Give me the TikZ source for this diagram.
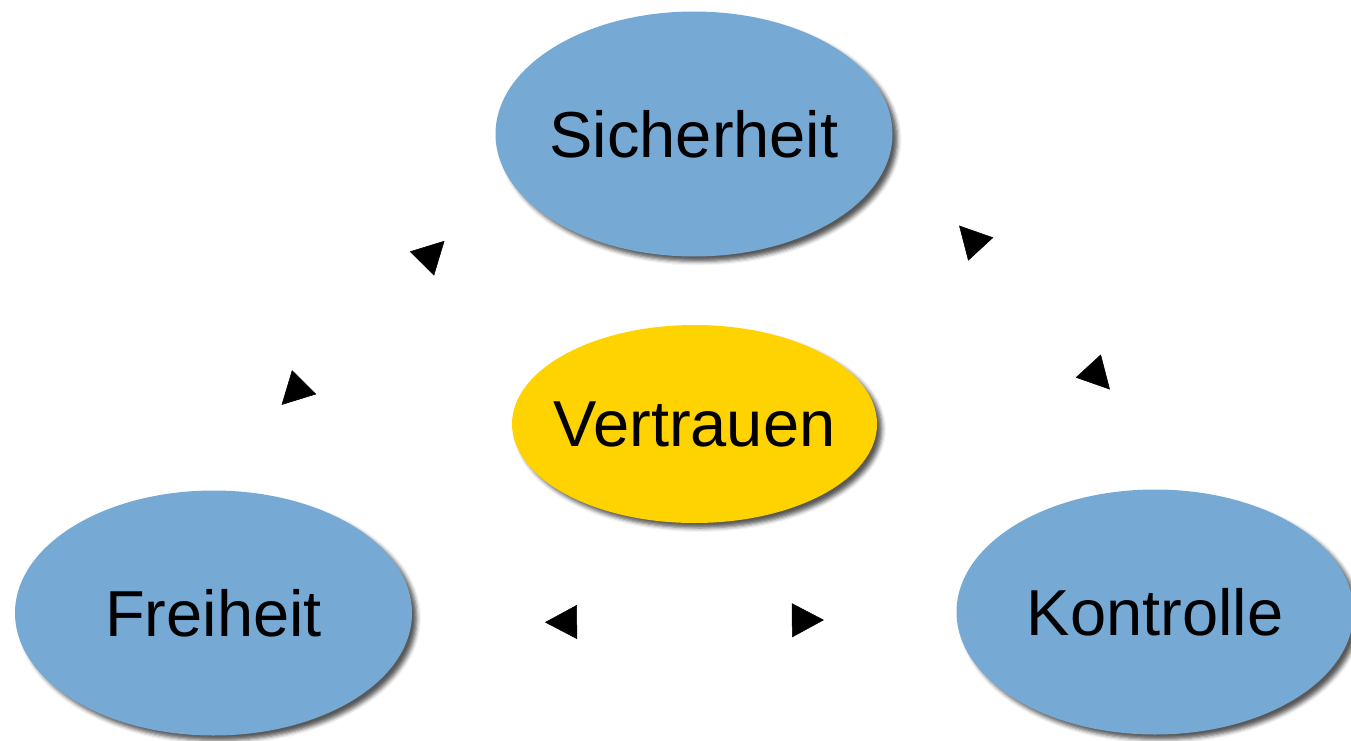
\documentclass[tikz,border=0pt]{standalone}
\usepackage{fontspec}
\setmainfont{Liberation Sans}
\usetikzlibrary{shapes.geometric,arrows.meta,shadows.blur}
\definecolor{nodeblue}{RGB}{118,170,213}
\definecolor{nodeyellow}{RGB}{255,211,0}
\begin{document}
\begin{tikzpicture}[x=1pt,y=-1pt,
  bubble/.style={shape=ellipse, inner xsep=-60pt, inner ysep=0pt, draw=none,
    font=\fontsize{65}{78}\selectfont, text=black,
    blur shadow={shadow xshift=5pt, shadow yshift=-5pt, shadow blur radius=4pt, shadow opacity=65}},
  bluebubble/.style={bubble, fill=nodeblue, minimum width=397pt, minimum height=245pt},
  yellowbubble/.style={bubble, fill=nodeyellow, minimum width=365pt, minimum height=198pt},
  link/.style={draw=white, line width=0.5pt,
    {Triangle[length=32pt,width=34pt,color=black]}-{Triangle[length=32pt,width=34pt,color=black]}}
]
\useasboundingbox (0,0) rectangle (1351,741);
\node[bluebubble] (S) at (694,134) {Sicherheit};
\node[yellowbubble] (V) at (694.5,424) {Vertrauen};
\node[bluebubble] (F) at (213.5,613) {Freiheit};
\node[bluebubble] (K) at (1155,612) {Kontrolle};
% connectors (lines invisible, only arrowheads visible)
\draw[link, shorten <=121pt, shorten >=90pt] (F.98.9) -- (S.193.3);
\draw[link, shorten <=101pt, shorten >=141pt] (S.355.2) -- (K.67.9);
\draw[link, shorten <=133.5pt, shorten >=132.7pt] (F.357.4) -- (K.182.9);
\end{tikzpicture}
\end{document}
